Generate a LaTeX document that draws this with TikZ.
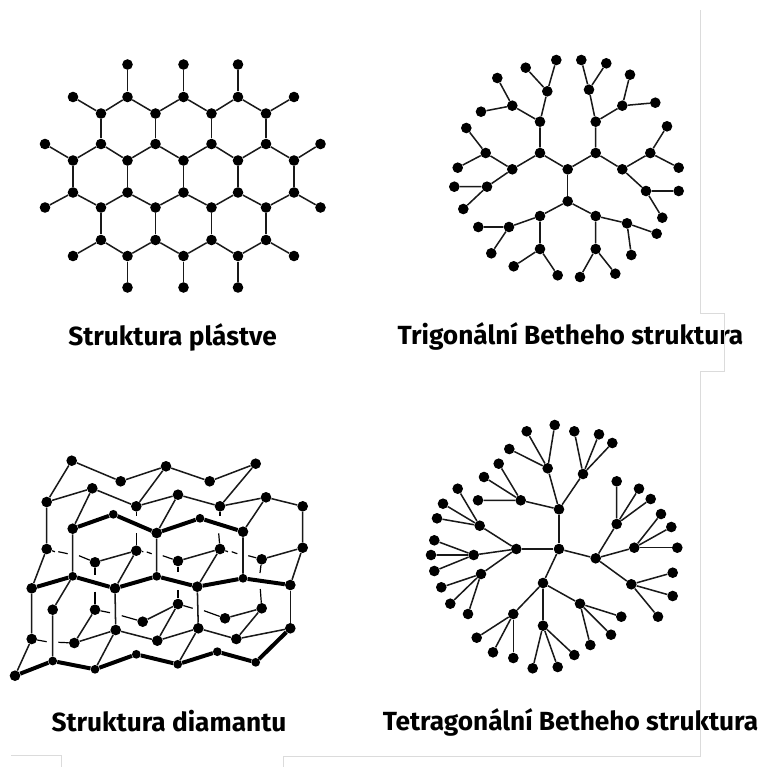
\documentclass[tikz,border=0pt]{standalone}
\usepackage{fontspec}
\setmainfont{Fira Sans}
\tikzset{
  atom/.style={circle,fill=black,inner sep=0pt,minimum size=8pt},
  smallatom/.style={circle,fill=black,inner sep=0pt,minimum size=6.6pt},
  bond/.style={line width=1.15pt,black!90},
  hiddenbond/.style={line width=0.9pt,black},
  heavybond/.style={line width=3pt,black},
  sheet/.style={line width=0.6pt,black!14},
  caption/.style={font=\bfseries\fontsize{19.8}{22}\selectfont,inner sep=0pt}
}
\begin{document}
\begin{tikzpicture}[x=0.0265cm,y=-0.0265cm]
\useasboundingbox (0,0) rectangle (762,767);
% captions
\node[caption] (capa) at (172.5,337) {Struktura plástve};
\node[caption] (capb) at (570.5,336) {Trigonální Betheho struktura};
\node[caption] (capc) at (169,721) {Struktura diamantu};
\node[caption] (capd) at (570.5,722) {Tetragonální Betheho struktura};
% faint page edges
\draw[sheet] (700,10) -- (700,313) -- (724,313) -- (724,371) -- (700,371) -- (700,756) -- (283,756) -- (283,767);
\draw[sheet] (11,755) -- (61,755) -- (61,767);
% honeycomb
\node[atom] (hd1) at (127.5,64.5) {}; \node[atom] (hf1) at (183.5,64.5) {}; \node[atom] (hh1) at (238,64.5) {};
\node[atom] (hb2) at (73,97) {}; \node[atom] (hd2) at (127.5,97) {}; \node[atom] (hf2) at (183.5,97) {}; \node[atom] (hh2) at (238,97) {}; \node[atom] (hj2) at (294,97) {};
\node[atom] (hc3) at (101,113.5) {}; \node[atom] (he3) at (155.5,113.5) {}; \node[atom] (hg3) at (211.5,113.5) {}; \node[atom] (hi3) at (266,113.5) {};
\node[atom] (ha4) at (45,144) {}; \node[atom] (hc4) at (101,144) {}; \node[atom] (he4) at (155.5,144) {}; \node[atom] (hg4) at (211.5,144) {}; \node[atom] (hi4) at (266,144) {}; \node[atom] (hk4) at (320.5,144) {};
\node[atom] (hb5) at (73,160.5) {}; \node[atom] (hd5) at (127.5,160.5) {}; \node[atom] (hf5) at (183.5,160.5) {}; \node[atom] (hh5) at (238,160.5) {}; \node[atom] (hj5) at (294,160.5) {};
\node[atom] (hb6) at (73,192.5) {}; \node[atom] (hd6) at (127.5,192.5) {}; \node[atom] (hf6) at (183.5,192.5) {}; \node[atom] (hh6) at (238,192.5) {}; \node[atom] (hj6) at (294,192.5) {};
\node[atom] (ha7) at (45,207.5) {}; \node[atom] (hc7) at (101,207.5) {}; \node[atom] (he7) at (155.5,207.5) {}; \node[atom] (hg7) at (211.5,207.5) {}; \node[atom] (hi7) at (266,207.5) {}; \node[atom] (hk7) at (320.5,207.5) {};
\node[atom] (hc8) at (101,240) {}; \node[atom] (he8) at (155.5,240) {}; \node[atom] (hg8) at (211.5,240) {}; \node[atom] (hi8) at (266,240) {};
\node[atom] (hb9) at (73,256) {}; \node[atom] (hd9) at (127.5,256) {}; \node[atom] (hf9) at (183.5,256) {}; \node[atom] (hh9) at (238,256) {}; \node[atom] (hj9) at (294,256) {};
\node[atom] (hd10) at (127.5,287.5) {}; \node[atom] (hf10) at (183.5,287.5) {}; \node[atom] (hh10) at (238,287.5) {};
\draw[bond] (hd1) -- (hd2); \draw[bond] (hf1) -- (hf2); \draw[bond] (hh1) -- (hh2);
\draw[bond] (hb2) -- (hc3) -- (hd2) -- (he3) -- (hf2) -- (hg3) -- (hh2) -- (hi3) -- (hj2);
\draw[bond] (hc3) -- (hc4); \draw[bond] (he3) -- (he4); \draw[bond] (hg3) -- (hg4); \draw[bond] (hi3) -- (hi4);
\draw[bond] (ha4) -- (hb5) -- (hc4) -- (hd5) -- (he4) -- (hf5) -- (hg4) -- (hh5) -- (hi4) -- (hj5) -- (hk4);
\draw[bond] (hb5) -- (hb6); \draw[bond] (hd5) -- (hd6); \draw[bond] (hf5) -- (hf6); \draw[bond] (hh5) -- (hh6); \draw[bond] (hj5) -- (hj6);
\draw[bond] (ha7) -- (hb6) -- (hc7) -- (hd6) -- (he7) -- (hf6) -- (hg7) -- (hh6) -- (hi7) -- (hj6) -- (hk7);
\draw[bond] (hc7) -- (hc8); \draw[bond] (he7) -- (he8); \draw[bond] (hg7) -- (hg8); \draw[bond] (hi7) -- (hi8);
\draw[bond] (hb9) -- (hc8) -- (hd9) -- (he8) -- (hf9) -- (hg8) -- (hh9) -- (hi8) -- (hj9);
\draw[bond] (hd9) -- (hd10); \draw[bond] (hf9) -- (hf10); \draw[bond] (hh9) -- (hh10);
% trigonal tree
\node[atom] (rc) at (567.7,169.3) {};
\node[atom] (ra) at (540,153) {}; \node[atom] (rb) at (595.7,153) {}; \node[atom] (rd) at (567.7,201.3) {};
\node[atom] (ra1) at (540,121.7) {}; \node[atom] (ra2) at (512.3,169.3) {};
\node[atom] (rb1) at (595.7,121.7) {}; \node[atom] (rb2) at (622.3,169.3) {};
\node[atom] (rd1) at (540,216) {}; \node[atom] (rd2) at (595.7,216) {};
\node[atom] (ra1a) at (547.3,91.3) {}; \node[atom] (ra1b) at (512.3,105.7) {}; \node[atom] (ra2a) at (485.7,153) {}; \node[atom] (ra2b) at (487,186.7) {};
\node[atom] (rb1a) at (589,89.7) {}; \node[atom] (rb1b) at (622.3,105.7) {}; \node[atom] (rb2a) at (650.3,153) {}; \node[atom] (rb2b) at (646,191) {};
\node[atom] (rd1a) at (509,227) {}; \node[atom] (rd1b) at (540,249) {}; \node[atom] (rd2a) at (627,223.3) {}; \node[atom] (rd2b) at (595.7,249) {};
\node[atom] (ra1a1) at (525.7,67.7) {}; \node[atom] (ra1a2) at (556.3,60) {}; \node[atom] (ra1b1) at (497.3,78) {}; \node[atom] (ra1b2) at (481,111.7) {};
\node[atom] (ra2a1) at (466.3,128) {}; \node[atom] (ra2a2) at (457.7,167.7) {}; \node[atom] (ra2b1) at (454.3,186.7) {}; \node[atom] (ra2b2) at (463.3,209) {};
\node[atom] (rb1a1) at (581.3,60) {}; \node[atom] (rb1a2) at (606.3,63.3) {}; \node[atom] (rb1b1) at (630,74.7) {}; \node[atom] (rb1b2) at (655.3,102.7) {};
\node[atom] (rb2a1) at (667,126.3) {}; \node[atom] (rb2a2) at (678.7,167.7) {}; \node[atom] (rb2b1) at (678.7,191) {}; \node[atom] (rb2b2) at (662.3,217.7) {};
\node[atom] (rd1a1) at (478.3,227) {}; \node[atom] (rd1a2) at (491.3,253.3) {}; \node[atom] (rd1b1) at (513.7,266.3) {}; \node[atom] (rd1b2) at (557.7,275.3) {};
\node[atom] (rd2a1) at (656.7,233.7) {}; \node[atom] (rd2a2) at (631.3,255) {}; \node[atom] (rd2b1) at (580,277) {}; \node[atom] (rd2b2) at (615.3,273.7) {};
\draw[bond] (ra) -- (rc) -- (rb); \draw[bond] (rc) -- (rd);
\draw[bond] (ra1) -- (ra) -- (ra2); \draw[bond] (rb1) -- (rb) -- (rb2); \draw[bond] (rd1) -- (rd) -- (rd2);
\draw[bond] (ra1a) -- (ra1) -- (ra1b); \draw[bond] (ra2a) -- (ra2) -- (ra2b);
\draw[bond] (rb1a) -- (rb1) -- (rb1b); \draw[bond] (rb2a) -- (rb2) -- (rb2b);
\draw[bond] (rd1a) -- (rd1) -- (rd1b); \draw[bond] (rd2a) -- (rd2) -- (rd2b);
\draw[bond] (ra1a1) -- (ra1a) -- (ra1a2); \draw[bond] (ra1b1) -- (ra1b) -- (ra1b2);
\draw[bond] (ra2a1) -- (ra2a) -- (ra2a2); \draw[bond] (ra2b1) -- (ra2b) -- (ra2b2);
\draw[bond] (rb1a1) -- (rb1a) -- (rb1a2); \draw[bond] (rb1b1) -- (rb1b) -- (rb1b2);
\draw[bond] (rb2a1) -- (rb2a) -- (rb2a2); \draw[bond] (rb2b1) -- (rb2b) -- (rb2b2);
\draw[bond] (rd1a1) -- (rd1a) -- (rd1a2); \draw[bond] (rd1b1) -- (rd1b) -- (rd1b2);
\draw[bond] (rd2a1) -- (rd2a) -- (rd2a2); \draw[bond] (rd2b1) -- (rd2b) -- (rd2b2);
% diamond
\node[atom] (t1) at (71.7,460.7) {}; \node[atom] (t2) at (120.7,481.3) {}; \node[atom] (t3) at (166,466.3) {}; \node[atom] (t4) at (209.7,481.3) {}; \node[atom] (t5) at (255.7,463.7) {};
\node[atom] (s1) at (46.7,502) {}; \node[atom] (s2) at (92.3,488.3) {}; \node[atom] (s3) at (136.3,506.3) {}; \node[atom] (s4) at (178,494.7) {}; \node[atom] (s5) at (220,506.3) {}; \node[atom] (s6) at (266,497.3) {}; \node[atom] (s7) at (302.7,506.3) {};
\node[atom] (u1) at (72.7,528.7) {}; \node[smallatom] (u2) at (113.3,514.3) {}; \node[atom] (u3) at (156.7,533) {}; \node[smallatom] (u4) at (200,518.3) {}; \node[atom] (u5) at (243,531.7) {};
\node[atom] (m1) at (46.7,549) {}; \node[atom] (m2) at (95,562.3) {}; \node[atom] (m3) at (136.3,550.7) {}; \node[atom] (m4) at (178,561) {}; \node[atom] (m5) at (220,549) {}; \node[atom] (m6) at (261.7,559.3) {}; \node[atom] (m7) at (302.7,547.7) {};
\node[atom] (v1) at (31.7,588.3) {}; \node[smallatom] (v2) at (72.7,576.3) {}; \node[atom] (v3) at (115,588.3) {}; \node[smallatom] (v4) at (156.7,576.3) {}; \node[atom] (v5) at (197.3,586.7) {}; \node[smallatom] (v6) at (243,578.3) {}; \node[atom] (v7) at (290.3,585) {};
\node[atom] (l1) at (52.7,609.7) {}; \node[atom] (l2) at (95,609.7) {}; \node[atom] (l3) at (142.7,621.7) {}; \node[atom] (l4) at (178,604) {}; \node[atom] (l5) at (225,618.3) {}; \node[atom] (l6) at (261.7,608.3) {};
\node[atom] (n1) at (31.7,639) {}; \node[atom] (n2) at (74.3,643) {}; \node[atom] (n3) at (115.7,630) {}; \node[atom] (n4) at (157.3,640.7) {}; \node[atom] (n5) at (198.3,628.3) {}; \node[atom] (n6) at (236.3,639) {}; \node[atom] (n7) at (290.3,628.3) {};
\node[atom] (b1) at (15,675.7) {}; \node[smallatom] (b2) at (52.7,661) {}; \node[smallatom] (b3) at (95,669.3) {}; \node[smallatom] (b4) at (136.3,654.3) {}; \node[smallatom] (b5) at (177.7,664.3) {}; \node[smallatom] (b6) at (217.3,651.7) {}; \node[smallatom] (b7) at (255.7,662.3) {};
\draw[bond] (s1) -- (t1) -- (t2) -- (t3) -- (t4) -- (t5) -- (s5);
\draw[bond] (m1) -- (s1) -- (s2) -- (s3) -- (s4) -- (s5) -- (s6) -- (s7) -- (m7);
\draw[bond] (s2) -- (u1) -- (v2); \draw[bond] (t3) -- (s3); \draw[bond] (s4) -- (u3) -- (v4); \draw[bond] (s6) -- (u5) -- (v6);
\draw[bond] (v1) -- (m1); \draw[bond] (m2) -- (m3) -- (v3); \draw[bond] (m4) -- (m5) -- (v5); \draw[bond] (m6) -- (m7) -- (v7);
\draw[bond] (v1) -- (n1) -- (b1); \draw[bond] (v3) -- (n3) -- (b3); \draw[bond] (v5) -- (n5) -- (b5); \draw[bond] (v7) -- (n7);
\draw[bond] (v2) -- (l1) -- (b2); \draw[bond] (l2) -- (n2) -- (n3) -- (n4) -- (l4) -- (l3); \draw[bond] (n4) -- (n5) -- (n6) -- (l6) -- (l5); \draw[bond] (n6) -- (n7);
\draw[heavybond] (u1) -- (u2) -- (u3) -- (u4) -- (u5);
\draw[heavybond] (v1) -- (v2) -- (v3) -- (v4) -- (v5) -- (v6) -- (v7);
\draw[heavybond] (b1) -- (b2) -- (b3) -- (b4) -- (b5) -- (b6) -- (b7) -- (n7);
% hidden bonds, broken up
\coordinate (sa) at (136.3,515.7); \coordinate (sb) at (220,515.7);
\coordinate (ua) at (136.3,533.3); \coordinate (ub) at (218.7,533.3);
\coordinate (da) at (95,574.5); \coordinate (db) at (178,571.5); \coordinate (dc) at (260,573);
\coordinate (ea) at (95,591.7); \coordinate (eb) at (178,590); \coordinate (ec) at (260.3,589);
\draw[hiddenbond] (s3) -- (sa); \draw[hiddenbond] (s5) -- (sb); \draw[hiddenbond] (ua) -- (m3); \draw[hiddenbond] (ub) -- (m5);
\draw[hiddenbond] (m2) -- (da); \draw[hiddenbond] (m4) -- (db); \draw[hiddenbond] (m6) -- (dc);
\draw[hiddenbond] (ea) -- (l2); \draw[hiddenbond] (eb) -- (l4); \draw[hiddenbond] (ec) -- (l6);
\coordinate (ga) at (55,551.7); \coordinate (gb) at (58.3,551.7); \coordinate (gc) at (67.7,553.7); \coordinate (gd) at (79,555.7);
\coordinate (ge) at (143.3,551.7); \coordinate (gf) at (146.7,552); \coordinate (gg) at (151.7,553.7); \coordinate (gh) at (162.7,555.7);
\coordinate (gi) at (228,551.7); \coordinate (gj) at (231.7,551.7); \coordinate (gk) at (237.3,553.7); \coordinate (gl) at (248.3,555.7);
\coordinate (gm) at (110,612.7); \coordinate (gn) at (121.7,615.7); \coordinate (go) at (192.7,608.3); \coordinate (gp) at (204,610.7);
\coordinate (gq) at (46.7,641.7); \coordinate (gr) at (58.3,642.3);
\draw[hiddenbond] (m1) -- (ga); \draw[hiddenbond] (gb) -- (gc); \draw[hiddenbond] (gd) -- (m2);
\draw[hiddenbond] (m3) -- (ge); \draw[hiddenbond] (gf) -- (gg); \draw[hiddenbond] (gh) -- (m4);
\draw[hiddenbond] (m5) -- (gi); \draw[hiddenbond] (gj) -- (gk); \draw[hiddenbond] (gl) -- (m6);
\draw[hiddenbond] (l2) -- (gm); \draw[hiddenbond] (gn) -- (l3); \draw[hiddenbond] (l4) -- (go); \draw[hiddenbond] (gp) -- (l5);
\draw[hiddenbond] (n1) -- (gq); \draw[hiddenbond] (gr) -- (n2);
% tetragonal tree
\node[atom] (qc) at (559,549) {};
\node[atom] (qu) at (559,509.3) {}; \node[atom] (ql) at (516.3,549) {}; \node[atom] (qr) at (595.7,558.3) {}; \node[atom] (qd) at (543,583) {};
\node[atom] (qu1) at (547.7,468.3) {}; \node[atom] (qu2) at (583,474) {}; \node[atom] (qu3) at (520.7,500.3) {};
\node[atom] (ql1) at (479.7,525.7) {}; \node[atom] (ql2) at (473.7,555) {}; \node[atom] (ql3) at (481,574) {};
\node[atom] (qr1) at (616.7,524) {}; \node[atom] (qr2) at (634.3,547.7) {}; \node[atom] (qr3) at (631.3,584.3) {};
\node[atom] (qd1) at (513.3,614) {}; \node[atom] (qd2) at (543,625.7) {}; \node[atom] (qd3) at (580,603.7) {};
\node[atom] (qu1a) at (509.3,449) {}; \node[atom] (qu1b) at (526.7,431.3) {}; \node[atom] (qu1c) at (554.7,425) {};
\node[atom] (qu2a) at (574.3,431.3) {}; \node[atom] (qu2b) at (599,434.3) {}; \node[atom] (qu2c) at (612.3,443) {};
\node[atom] (qu3a) at (478,500.3) {}; \node[atom] (qu3b) at (484,477) {}; \node[atom] (qu3c) at (498.7,463.7) {};
\node[atom] (ql1a) at (457.7,488.7) {}; \node[atom] (ql1b) at (443,503.7) {}; \node[atom] (ql1c) at (437,518.3) {};
\node[atom] (ql2a) at (434.3,540.3) {}; \node[atom] (ql2b) at (431,555) {}; \node[atom] (ql2c) at (434.3,571) {};
\node[atom] (ql3a) at (441.3,587.3) {}; \node[atom] (ql3b) at (450.3,603.7) {}; \node[atom] (ql3c) at (468,614) {};
\node[atom] (qr1a) at (616.7,481.3) {}; \node[atom] (qr1b) at (639,488.7) {}; \node[atom] (qr1c) at (650.7,499) {};
\node[atom] (qr2a) at (661,514) {}; \node[atom] (qr2b) at (671.3,527) {}; \node[atom] (qr2c) at (677.3,547.7) {};
\node[atom] (qr3a) at (672.7,572.7) {}; \node[atom] (qr3b) at (672.7,596) {}; \node[atom] (qr3c) at (658,616.7) {};
\node[atom] (qd1a) at (476.7,637.7) {}; \node[atom] (qd1b) at (493,652.3) {}; \node[atom] (qd1c) at (513.3,658) {};
\node[atom] (qd2a) at (532.7,668.3) {}; \node[atom] (qd2b) at (557.7,667) {}; \node[atom] (qd2c) at (574.3,655) {};
\node[atom] (qd3a) at (621.3,616.7) {}; \node[atom] (qd3b) at (611,634.7) {}; \node[atom] (qd3c) at (590.3,645) {};
\draw[bond] (qu) -- (qc) -- (ql); \draw[bond] (qr) -- (qc) -- (qd);
\draw[bond] (qu1) -- (qu) -- (qu2); \draw[bond] (qu) -- (qu3);
\draw[bond] (ql1) -- (ql) -- (ql2); \draw[bond] (ql) -- (ql3);
\draw[bond] (qr1) -- (qr) -- (qr2); \draw[bond] (qr) -- (qr3);
\draw[bond] (qd1) -- (qd) -- (qd2); \draw[bond] (qd) -- (qd3);
\draw[bond] (qu1a) -- (qu1) -- (qu1b); \draw[bond] (qu1) -- (qu1c);
\draw[bond] (qu2a) -- (qu2) -- (qu2b); \draw[bond] (qu2) -- (qu2c);
\draw[bond] (qu3a) -- (qu3) -- (qu3b); \draw[bond] (qu3) -- (qu3c);
\draw[bond] (ql1a) -- (ql1) -- (ql1b); \draw[bond] (ql1) -- (ql1c);
\draw[bond] (ql2a) -- (ql2) -- (ql2b); \draw[bond] (ql2) -- (ql2c);
\draw[bond] (ql3a) -- (ql3) -- (ql3b); \draw[bond] (ql3) -- (ql3c);
\draw[bond] (qr1a) -- (qr1) -- (qr1b); \draw[bond] (qr1) -- (qr1c);
\draw[bond] (qr2a) -- (qr2) -- (qr2b); \draw[bond] (qr2) -- (qr2c);
\draw[bond] (qr3a) -- (qr3) -- (qr3b); \draw[bond] (qr3) -- (qr3c);
\draw[bond] (qd1a) -- (qd1) -- (qd1b); \draw[bond] (qd1) -- (qd1c);
\draw[bond] (qd2a) -- (qd2) -- (qd2b); \draw[bond] (qd2) -- (qd2c);
\draw[bond] (qd3a) -- (qd3) -- (qd3b); \draw[bond] (qd3) -- (qd3c);
\end{tikzpicture}
\end{document}
